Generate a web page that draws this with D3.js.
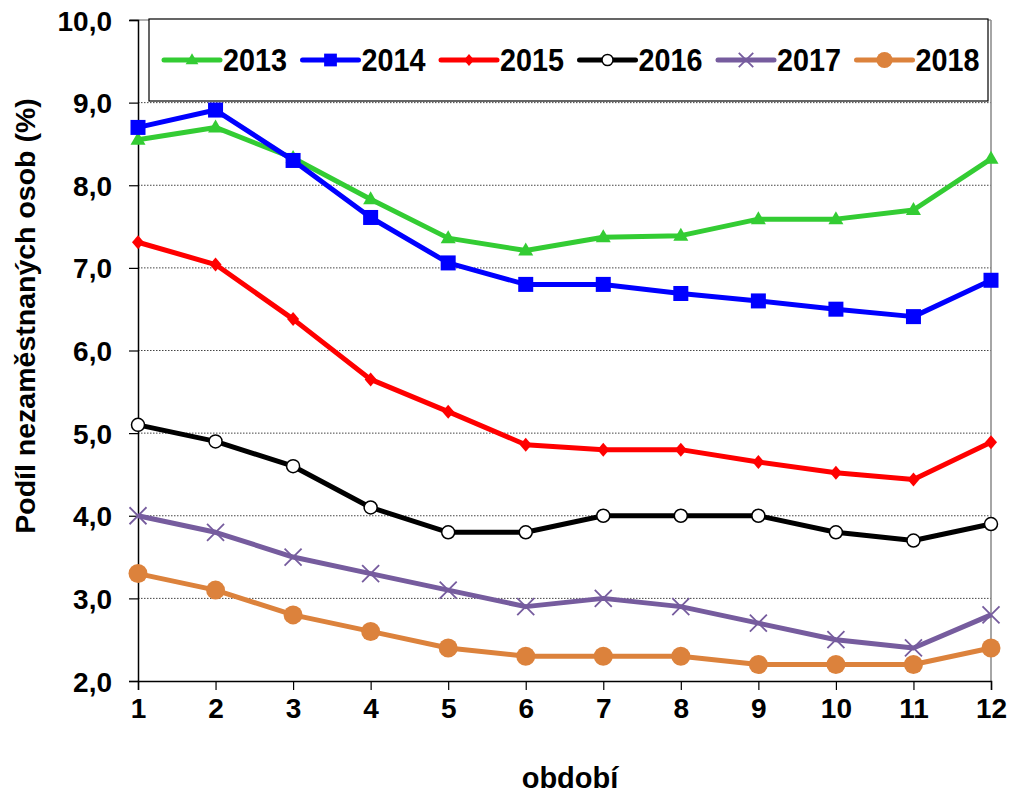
<!DOCTYPE html>
<html><head><meta charset="utf-8">
<script src="https://cdn.jsdelivr.net/npm/d3@7"></script>
<style>body{margin:0;background:#fff}svg{display:block;font-family:"Liberation Sans",Arial,sans-serif}</style>
</head><body><svg id="c" width="1013" height="794"></svg>
<script>
const periods = [1,2,3,4,5,6,7,8,9,10,11,12];
const yTicks = [2,3,4,5,6,7,8,9,10];
const years = ["2013","2014","2015","2016","2017","2018"];
const v2013 = [8.55,8.70,8.33,7.83,7.36,7.21,7.37,7.39,7.59,7.59,7.70,8.32];
const v2014 = [8.70,8.91,8.30,7.61,7.06,6.80,6.80,6.69,6.60,6.50,6.41,6.85];
const v2015 = [7.31,7.04,6.38,5.65,5.26,4.86,4.80,4.80,4.65,4.52,4.44,4.89];
const v2016 = [5.1,4.9,4.6,4.1,3.8,3.8,4.0,4.0,4.0,3.8,3.7,3.9];
const v2017 = [4.0,3.8,3.5,3.3,3.1,2.9,3.0,2.9,2.7,2.5,2.4,2.8];
const v2018 = [3.3,3.1,2.8,2.6,2.4,2.3,2.3,2.3,2.2,2.2,2.2,2.4];
const yTitle = "Podíl nezaměstnaných osob (%)";
const xTitle = "období";

const seriesVals = [v2013,v2014,v2015,v2016,v2017,v2018];
const styles = [
  {color:"#33cc33", marker:"tri"},
  {color:"#0000ff", marker:"sq"},
  {color:"#ff0000", marker:"dia"},
  {color:"#000000", marker:"open"},
  {color:"#765c9e", marker:"x"},
  {color:"#dc823c", marker:"dot"}
];

const svg = d3.select("#c");
const L=138, R=991, T=20, B=681;
const x = d3.scalePoint().domain(periods).range([L,R]);
const y = d3.scaleLinear().domain([2,10]).range([B,T]);
const fmt = d => d.toFixed(1).replace(".",",");

// gridlines
svg.append("g").selectAll("line").data(yTicks.filter(t=>t>2&&t<10)).join("line")
  .attr("x1",L).attr("x2",R).attr("y1",d=>y(d)).attr("y2",d=>y(d))
  .attr("stroke","#444").attr("stroke-width",1).attr("stroke-dasharray","1.5,1.5");
// top & right border
svg.append("line").attr("x1",L-8).attr("x2",R).attr("y1",y(10)).attr("y2",y(10)).attr("stroke","#999").attr("stroke-width",1.5);
svg.append("line").attr("x1",R).attr("x2",R).attr("y1",T).attr("y2",B).attr("stroke","#888").attr("stroke-width",1.5);

// axes
const ya = svg.append("g").attr("transform",`translate(${L},0)`)
  .call(d3.axisLeft(y).tickValues(yTicks).tickFormat(fmt).tickSize(9).tickPadding(17));
const xa = svg.append("g").attr("transform",`translate(0,${B})`)
  .call(d3.axisBottom(x).tickSize(9).tickPadding(8));
[ya,xa].forEach(a=>{
  a.select(".domain").attr("stroke","#000").attr("stroke-width",1.5);
  a.selectAll(".tick line").attr("stroke","#000").attr("stroke-width",1.2);
  a.selectAll("text").attr("font-size",28).attr("font-weight","bold").attr("fill","#000")
   .attr("font-family","'Liberation Sans',Arial,sans-serif");
});
ya.selectAll("text").attr("dy","0.36em");

// titles
svg.append("text").attr("transform",`translate(35,316) rotate(-90)`).attr("text-anchor","middle")
  .attr("font-size",28.5).attr("font-weight","bold").text(yTitle);
svg.append("text").attr("x",570).attr("y",788).attr("text-anchor","middle")
  .attr("font-size",29).attr("font-weight","bold").text(xTitle);

function drawMarker(g, type, color, cx, cy, legend){
  const s = legend ? 0.85 : 1;
  if(type==="tri"){
    g.append("path").attr("d",`M0,${-8*s}L${7.5*s},${5*s}L${-7.5*s},${5*s}Z`).attr("transform",`translate(${cx},${cy})`).attr("fill",color);
  } else if(type==="sq"){
    g.append("rect").attr("x",cx-7.5*s).attr("y",cy-7.5*s).attr("width",15*s).attr("height",15*s).attr("fill",color);
  } else if(type==="dia"){
    g.append("path").attr("d",`M0,${-7*s}L${6*s},0L0,${7*s}L${-6*s},0Z`).attr("transform",`translate(${cx},${cy})`).attr("fill",color);
  } else if(type==="open"){
    g.append("circle").attr("cx",cx).attr("cy",cy).attr("r",6.5*s).attr("fill","#fff").attr("stroke",color).attr("stroke-width",1.5);
  } else if(type==="x"){
    const r=8.5*s;
    g.append("path").attr("d",`M${cx-r},${cy-r}L${cx+r},${cy+r}M${cx-r},${cy+r}L${cx+r},${cy-r}`).attr("stroke",color).attr("stroke-width",1.8);
  } else if(type==="dot"){
    g.append("circle").attr("cx",cx).attr("cy",cy).attr("r",9.5*s).attr("fill",color);
  }
}

const line = d3.line().x((d,i)=>x(periods[i])).y(d=>y(d));
seriesVals.forEach((vals,k)=>{
  const st = styles[k];
  const g = svg.append("g");
  g.append("path").datum(vals).attr("d",line).attr("fill","none").attr("stroke",st.color)
    .attr("stroke-width",5).attr("stroke-linejoin","round");
  vals.forEach((v,i)=>drawMarker(g, st.marker, st.color, x(periods[i]), y(v), false));
});

// legend
svg.append("rect").attr("x",149).attr("y",19).attr("width",839).attr("height",82)
  .attr("fill","#fff").attr("stroke","#000").attr("stroke-width",1.2);
years.forEach((yr,k)=>{
  const st = styles[k];
  const x0 = 164 + k*138.5, ly = 60;
  const g = svg.append("g");
  g.append("line").attr("x1",x0).attr("x2",x0+56).attr("y1",ly).attr("y2",ly)
    .attr("stroke",st.color).attr("stroke-width",5).attr("stroke-linecap","round");
  drawMarker(g, st.marker, st.color, x0+28, ly, true);
  g.append("text").attr("x",x0+59).attr("y",ly+11).attr("font-size",31).attr("font-weight","bold")
    .attr("textLength",64).attr("lengthAdjust","spacingAndGlyphs").text(yr);
});
</script></body></html>
